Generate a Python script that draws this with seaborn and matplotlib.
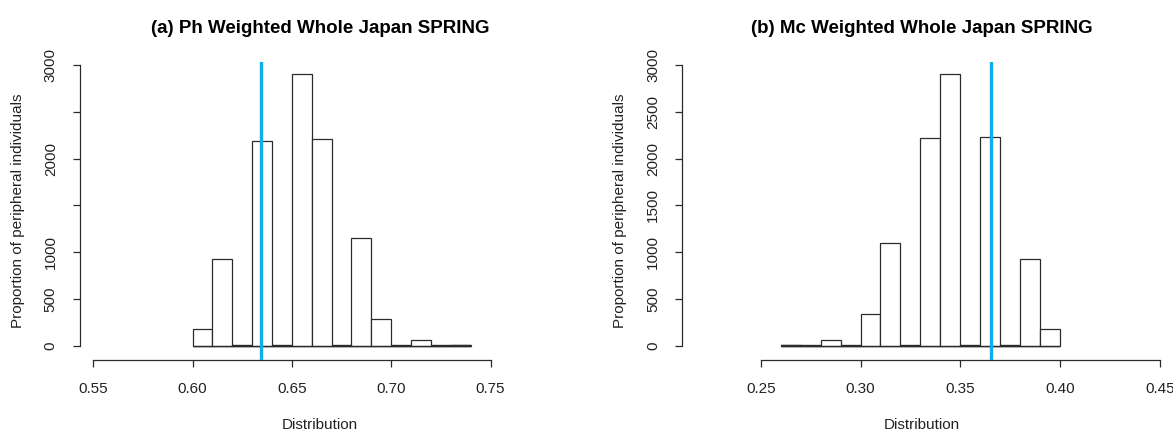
import matplotlib
matplotlib.use("Agg")
import matplotlib.pyplot as plt
import seaborn as sns
import numpy as np
import pandas as pd

# ---- data ----
bin_width = 0.01
ph_bin_starts = [0.60, 0.61, 0.62, 0.63, 0.64, 0.65, 0.66, 0.67, 0.68, 0.69, 0.70, 0.71, 0.72, 0.73]
ph_counts = [178, 925, 0, 2192, 0, 2905, 2210, 0, 1155, 282, 0, 58, 0, 8]
ph_observed = 0.6346

mc_bin_starts = [0.26, 0.27, 0.28, 0.29, 0.30, 0.31, 0.32, 0.33, 0.34, 0.35, 0.36, 0.37, 0.38, 0.39]
mc_counts = [8, 0, 58, 0, 336, 1094, 0, 2220, 2905, 0, 2230, 0, 930, 175]
mc_observed = 0.3652

titles = ["(a) Ph Weighted Whole Japan SPRING", "(b) Mc Weighted Whole Japan SPRING"]
x_label = "Distribution"
y_label = "Proportion of peripheral individuals"
ph_xticks = [0.55, 0.60, 0.65, 0.70, 0.75]
mc_xticks = [0.25, 0.30, 0.35, 0.40, 0.45]
y_ticks = [0, 500, 1000, 1500, 2000, 2500, 3000]
ph_ytick_labels = ["0", "500", "1000", "", "2000", "", "3000"]
mc_ytick_labels = ["0", "500", "1000", "1500", "2000", "2500", "3000"]

sns.set_theme(style="white")
plt.rcParams["font.family"] = ["Liberation Sans", "DejaVu Sans"]

W, H = 1173, 433
fig = plt.figure(figsize=(W / 100, H / 100), dpi=100)
fig.patch.set_facecolor("white")

bottom_px, top_px = 359.5, 61.7
ax_h = (bottom_px - top_px) / H
ax_b = (H - bottom_px) / H
ax1 = fig.add_axes([80 / W, ax_b, 480 / W, ax_h])
ax2 = fig.add_axes([682.2 / W, ax_b, 480 / W, ax_h])

panels = [
    (ax1, ph_bin_starts, ph_counts, ph_observed, ph_xticks, ph_ytick_labels, titles[0],
     (0.5433, 0.5433 + 480 / 1986)),
    (ax2, mc_bin_starts, mc_counts, mc_observed, mc_xticks, mc_ytick_labels, titles[1],
     (0.21067, 0.21067 + 480 / 1996)),
]

line_col = "#2b2b2b"
for ax, starts, counts, obs, xticks, ylabels, title, xlim in panels:
    starts = np.asarray(starts, dtype=float)
    df = pd.DataFrame({"value": starts + bin_width / 2, "count": np.asarray(counts, dtype=float)})
    lo, hi = float(starts[0]), float(starts[-1] + bin_width)
    # baseline of the histogram (zero-height bins show as a dark line in R)
    ax.hlines(0, lo, hi, color=line_col, linewidth=1.7, zorder=1)
    sns.histplot(data=df, x="value", weights="count", bins=len(starts),
                 binrange=(lo, hi), ax=ax,
                 color="white", edgecolor=line_col, linewidth=0.9, alpha=1.0, zorder=2)
    ax.hlines(0, lo, hi, color=line_col, linewidth=0.9, zorder=3)
    ax.axvline(obs, color="#12ADE8", linewidth=2.4, zorder=5)

    ax.set_xlim(*xlim)
    ax.set_ylim(-147, 3035)
    ax.set_facecolor("white")
    for s in ["top", "right"]:
        ax.spines[s].set_visible(False)
    ax.spines["left"].set_bounds(0, 3000)
    ax.spines["bottom"].set_bounds(xticks[0], xticks[-1])
    for s in ["left", "bottom"]:
        ax.spines[s].set_color(line_col)
        ax.spines[s].set_linewidth(0.9)

    ax.set_xticks(xticks)
    ax.set_xticklabels([f"{v:.2f}" for v in xticks])
    ax.set_yticks(y_ticks)
    ax.set_yticklabels(ylabels, rotation=90, va="center")
    ax.tick_params(axis="both", direction="out", length=5, width=0.9,
                   color=line_col, labelsize=11, labelcolor="#222222", pad=11,
                   bottom=True, left=True)

    ax.set_xlabel(x_label, fontsize=11, color="#222222")
    ax.set_ylabel(y_label, fontsize=11, color="#222222")
    ax.xaxis.set_label_coords(0.5, -(425 - bottom_px) / (bottom_px - top_px))
    ax.xaxis.label.set_va("center")
    ax.yaxis.set_label_coords(-62 / 480, 0.5)
    ax.yaxis.label.set_va("center")
    ax.set_title(title, fontsize=13.5, fontweight="bold", pad=21, color="black")
    ax.grid(False)

fig.savefig("out.png", dpi=100, facecolor="white")
